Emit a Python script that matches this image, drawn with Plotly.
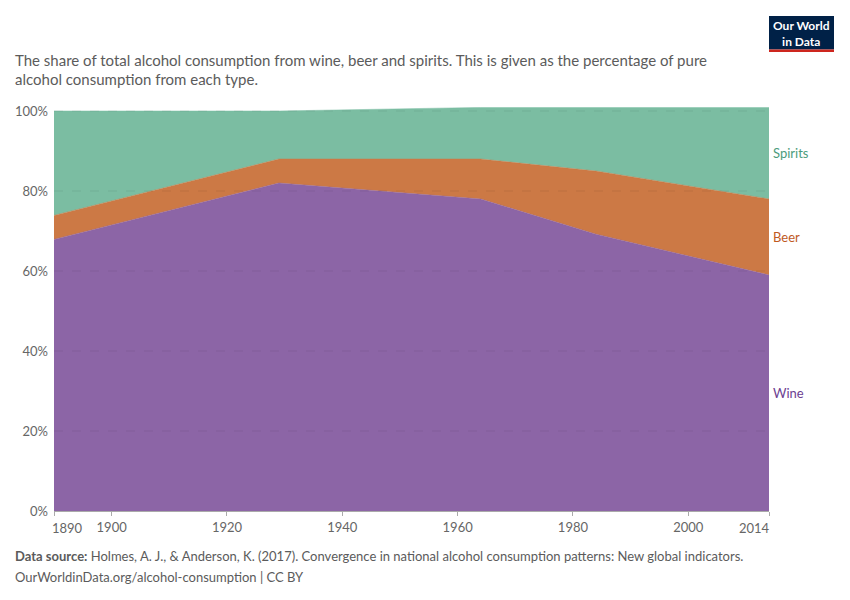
import plotly.graph_objects as go

years = [1890, 1929, 1964, 1984, 2014]
wine = [67.9, 82.0, 78.0, 69.2, 59.0]
beer = [6.0, 6.0, 10.0, 15.8, 19.0]
spirits = [26.1, 12.0, 12.9, 15.9, 22.9]

series_names = ["Wine", "Beer", "Spirits"]
fill_colors = ["#8c65a6", "#cc7945", "#7bbda2"]
label_colors = ["#6d3e91", "#c05a1f", "#4c9c7c"]
x_ticks = [1890, 1900, 1920, 1940, 1960, 1980, 2000, 2014]
y_ticks = [0, 20, 40, 60, 80, 100]

# page offset (browser body margin)
OFF = 8
W, H = 850 - OFF, 600 - OFF
# plot area in page pixels
L, R, T, B = 54, 769, 107, 511


def px(x):
    return (x - L) / (R - L)


def py(y):
    return (B - y) / (B - T)


fig = go.Figure()
for name, vals, col in zip(series_names, [wine, beer, spirits], fill_colors):
    fig.add_trace(go.Scatter(
        x=years, y=vals, name=name, stackgroup="one", mode="lines",
        line=dict(width=0.5, color=col), fillcolor=col, hoverinfo="skip"))

cum = 0
annotations = []
for name, vals, col in zip(series_names, [wine, beer, spirits], label_colors):
    mid = cum + vals[-1] / 2
    cum += vals[-1]
    annotations.append(dict(x=1, xref="paper", y=mid, yref="y", text=name,
                            showarrow=False, xanchor="left", xshift=2,
                            font=dict(family="Lato", size=13, color=col)))

# edge tick labels pulled inward (first label left-aligned, last right-aligned)
tick_font = dict(family="Lato", size=13, color="#666666")
annotations.append(dict(x=x_ticks[0], xref="x", y=py(528), yref="paper", text=str(x_ticks[0]),
                        showarrow=False, xanchor="left", yanchor="middle", xshift=-4, font=tick_font))
annotations.append(dict(x=x_ticks[-1], xref="x", y=py(528), yref="paper", text=str(x_ticks[-1]),
                        showarrow=False, xanchor="right", yanchor="middle", xshift=3, font=tick_font))

TX = px(13)
annotations += [
    dict(x=TX, y=py(60), xref="paper", yref="paper", xanchor="left", yanchor="middle",
         text="The share of total alcohol consumption from wine, beer and spirits. This is given as the percentage of pure",
         showarrow=False, font=dict(family="Lato", size=15, color="#5b5b5b")),
    dict(x=TX, y=py(79), xref="paper", yref="paper", xanchor="left", yanchor="middle",
         text="alcohol consumption from each type.",
         showarrow=False, font=dict(family="Lato", size=15, color="#5b5b5b")),
    dict(x=TX, y=py(556), xref="paper", yref="paper", xanchor="left", yanchor="middle",
         text="<b>Data source:</b> Holmes, A. J., & Anderson, K. (2017). Convergence in national alcohol consumption patterns: New global indicators.",
         showarrow=False, font=dict(family="Lato", size=13, color="#5b5b5b")),
    dict(x=TX, y=py(577), xref="paper", yref="paper", xanchor="left", yanchor="middle",
         text="OurWorldinData.org/alcohol-consumption | CC BY",
         showarrow=False, font=dict(family="Lato", size=13, color="#5b5b5b")),
    dict(x=px(801.5), y=py(33.5), xref="paper", yref="paper", xanchor="center", yanchor="middle",
         text="<b>Our World<br>in Data</b>", showarrow=False,
         font=dict(family="Lato", size=12, color="white")),
]

shapes = [
    dict(type="rect", xref="paper", yref="paper", x0=px(769), x1=px(834), y0=py(16), y1=py(49.5),
         fillcolor="#002147", line=dict(width=0), layer="above"),
    dict(type="rect", xref="paper", yref="paper", x0=px(769), x1=px(834), y0=py(49.5), y1=py(52),
         fillcolor="#ce261e", line=dict(width=0), layer="above"),
]
for v in y_ticks[1:]:
    shapes.append(dict(type="line", xref="paper", yref="y", x0=0, x1=1, y0=v, y1=v,
                       line=dict(color="rgba(0,0,0,0.07)", width=1, dash="dash"), layer="above"))

tick_text = ["" if t in (x_ticks[0], x_ticks[-1]) else str(t) for t in x_ticks]

fig.update_layout(
    width=W, height=H,
    margin=dict(l=L - OFF, r=W - (R - OFF), t=T - OFF, b=H - (B - OFF), pad=0),
    paper_bgcolor="white", plot_bgcolor="white",
    showlegend=False,
    font=dict(family="Lato", color="#666666"),
    annotations=annotations, shapes=shapes,
    xaxis=dict(range=[1890, 2014], tickvals=x_ticks, ticktext=tick_text, automargin=False,
               showgrid=False, zeroline=False, showline=True, linecolor="#aaaaaa",
               ticks="outside", ticklen=4, tickcolor="#aaaaaa",
               tickfont=tick_font),
    yaxis=dict(range=[0, 101], tickvals=y_ticks, ticktext=[f"{t}%" for t in y_ticks], automargin=False,
               showgrid=True, gridcolor="#dddddd", griddash="dash", zeroline=False,
               showline=False, ticks="", ticklabelstandoff=5,
               tickfont=tick_font),
)

fig.write_html("out.html")
